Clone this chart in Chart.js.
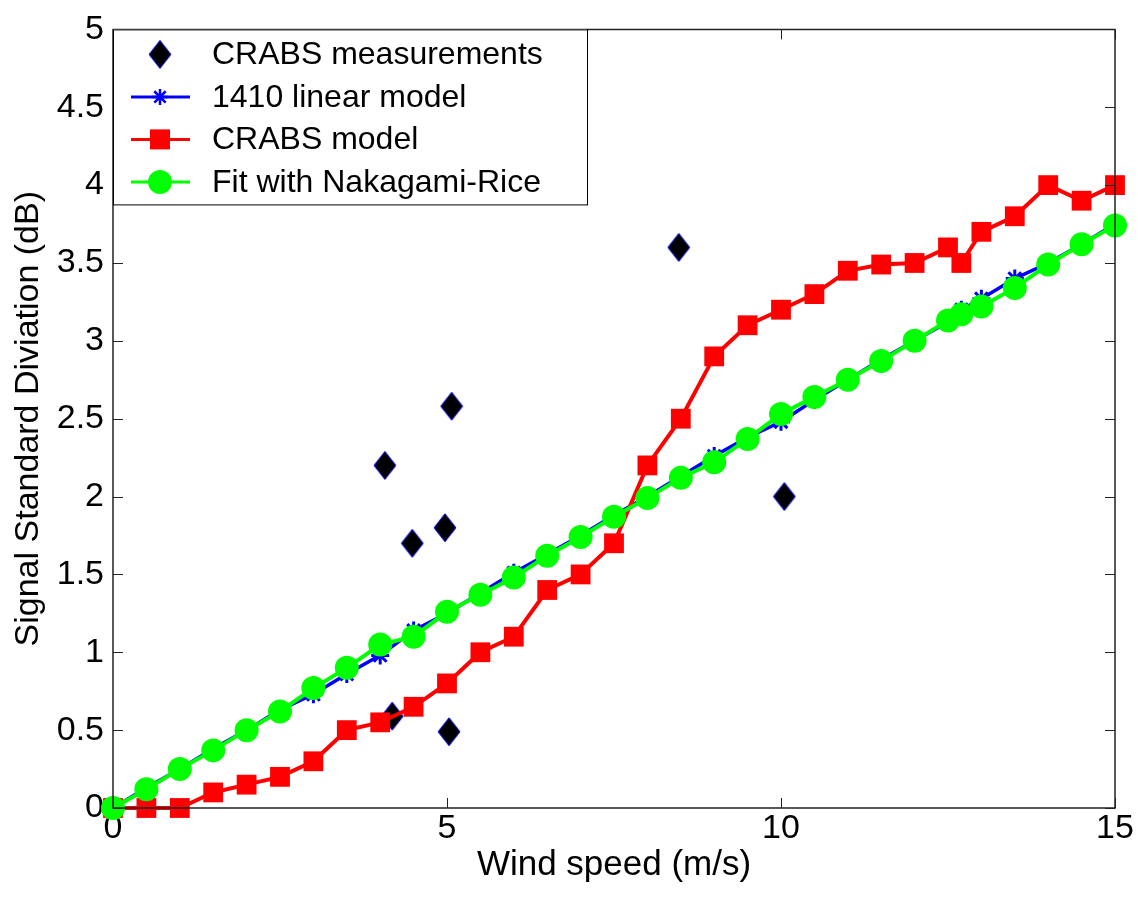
<!DOCTYPE html>
<html>
<head>
<meta charset="utf-8">
<script src="https://cdn.jsdelivr.net/npm/chart.js@4/dist/chart.umd.min.js"></script>
<style>
html,body{margin:0;padding:0;background:#fff;}
#c{display:block;}
</style>
</head>
<body>
<canvas id="c" width="1138" height="898"></canvas>
<script>
// ---- data ----
const measX = [4.07, 4.18, 4.48, 4.97, 5.03, 5.07, 8.47, 10.05];
const measY = [2.20, 0.59, 1.70, 1.80, 0.49, 2.58, 3.60, 2.00];

const modelX = [0,0.5,1,1.5,2,2.5,3,3.5,4,4.5,5,5.5,6,6.5,7,7.5,8,8.5,9,9.5,10,10.5,11,11.5,12,12.5,12.7,13,13.5,14,14.5,15];
const linearY = [0,0.13,0.25,0.38,0.5,0.63,0.73,0.86,0.98,1.14,1.25,1.38,1.51,1.63,1.75,1.88,2.0,2.13,2.26,2.38,2.48,2.62,2.75,2.88,3.0,3.12,3.2,3.27,3.4,3.5,3.62,3.75];
const crabsY = [0,0,0,0.1,0.15,0.2,0.3,0.5,0.55,0.65,0.8,1.0,1.1,1.4,1.5,1.7,2.2,2.5,2.9,3.1,3.2,3.3,3.45,3.49,3.5,3.6,3.5,3.7,3.8,4.0,3.9,4.0];
const nakaY = [0,0.12,0.25,0.37,0.5,0.62,0.77,0.9,1.05,1.1,1.26,1.37,1.48,1.62,1.74,1.87,1.99,2.12,2.22,2.37,2.53,2.64,2.75,2.87,3.0,3.13,3.17,3.22,3.34,3.49,3.62,3.74];

const xTicks = [0, 5, 10, 15];
const yTicks = [0,0.5,1,1.5,2,2.5,3,3.5,4,4.5,5];
const seriesNames = ['CRABS measurements','1410 linear model','CRABS model','Fit with Nakagami-Rice'];
const xTitle = 'Wind speed (m/s)';
const yTitle = 'Signal Standard Diviation (dB)';

const FONT = "Arial, 'Liberation Sans', sans-serif";

// diamond marker
function makeDiamond(){
  const c = document.createElement('canvas');
  c.width = 24; c.height = 30;
  const g = c.getContext('2d');
  g.beginPath();
  g.moveTo(12,1); g.lineTo(23,15); g.lineTo(12,29); g.lineTo(1,15); g.closePath();
  g.fillStyle = '#000'; g.fill();
  g.strokeStyle = '#0000ff'; g.lineWidth = 1; g.stroke();
  return c;
}
const diamond = makeDiamond();

function pts(xs, ys){ return xs.map((x,i)=>({x:x, y:ys[i]})); }

const framePlugin = {
  id:'frame',
  afterDatasetsDraw(chart){
    const ctx = chart.ctx, a = chart.chartArea;
    const xs = chart.scales.x, ys = chart.scales.y;
    ctx.save();
    ctx.lineWidth = 1.5;
    ctx.strokeStyle = '#222';
    ctx.beginPath();
    ctx.rect(a.left, a.top, a.right - a.left, a.bottom - a.top);
    ctx.stroke();
    const L = 10;
    ctx.lineWidth = 1;
    ctx.beginPath();
    xTicks.forEach(v=>{
      const p = Math.round(xs.getPixelForValue(v)) + 0.5;
      ctx.moveTo(p, a.bottom); ctx.lineTo(p, a.bottom - L);
      ctx.moveTo(p, a.top); ctx.lineTo(p, a.top + L);
    });
    yTicks.forEach(v=>{
      const p = Math.round(ys.getPixelForValue(v)) + 0.5;
      ctx.moveTo(a.left, p); ctx.lineTo(a.left + L, p);
      ctx.moveTo(a.right, p); ctx.lineTo(a.right - L, p);
    });
    ctx.stroke();
    ctx.restore();
  },
  afterDraw(chart){
    const ctx = chart.ctx, a = chart.chartArea;
    ctx.save();
    const bx = a.left, by = a.top, bw = 474, bh = 175;
    ctx.fillStyle = '#fff';
    ctx.fillRect(bx, by, bw, bh);
    ctx.strokeStyle = '#000';
    ctx.lineWidth = 1;
    ctx.strokeRect(bx + 0.5, by + 0.5, bw, bh);
    const x0 = bx + 18, x1 = bx + 77, xm = bx + 47, tx = bx + 99;
    ctx.font = "32px " + FONT;
    ctx.textBaseline = 'middle';
    ctx.textAlign = 'left';
    seriesNames.forEach((name, i)=>{
      const cy = by + 25 + i * 42.5;
      if (i === 0) {
        ctx.drawImage(diamond, xm - 12, cy - 15);
      } else if (i === 1) {
        ctx.strokeStyle = '#0000ff'; ctx.lineWidth = 3;
        ctx.beginPath(); ctx.moveTo(x0, cy); ctx.lineTo(x1, cy); ctx.stroke();
        ctx.lineWidth = 2.5;
        ctx.beginPath();
        const r = 8;
        for (let k = 0; k < 4; k++) {
          const ang = k * Math.PI / 4;
          ctx.moveTo(xm - r*Math.cos(ang), cy - r*Math.sin(ang));
          ctx.lineTo(xm + r*Math.cos(ang), cy + r*Math.sin(ang));
        }
        ctx.stroke();
      } else if (i === 2) {
        ctx.strokeStyle = '#ff0000'; ctx.lineWidth = 3;
        ctx.beginPath(); ctx.moveTo(x0, cy); ctx.lineTo(x1, cy); ctx.stroke();
        ctx.fillStyle = '#ff0000';
        ctx.fillRect(xm - 10, cy - 10, 20, 20);
      } else {
        ctx.strokeStyle = '#00ff00'; ctx.lineWidth = 3;
        ctx.beginPath(); ctx.moveTo(x0, cy); ctx.lineTo(x1, cy); ctx.stroke();
        ctx.fillStyle = '#00ff00';
        ctx.beginPath(); ctx.arc(xm, cy, 12, 0, Math.PI*2); ctx.fill();
      }
      ctx.fillStyle = '#000';
      ctx.fillText(name, tx, cy + 1);
    });
    ctx.restore();
  }
};

new Chart(document.getElementById('c'), {
  type: 'scatter',
  data: {
    datasets: [
      {
        label: seriesNames[0],
        data: pts(measX, measY),
        showLine: false,
        pointStyle: diamond,
        pointRadius: 12,
        order: 4,
        clip: false
      },
      {
        label: seriesNames[1],
        data: pts(modelX, linearY),
        showLine: true,
        borderColor: '#0000ff',
        borderWidth: 3.5,
        pointStyle: 'star',
        pointRadius: 9,
        pointBorderWidth: 3,
        pointBorderColor: '#0000ff',
        pointBackgroundColor: '#0000ff',
        order: 3,
        clip: false
      },
      {
        label: seriesNames[2],
        data: pts(modelX, crabsY),
        showLine: true,
        borderColor: '#ff0000',
        borderWidth: 4,
        pointStyle: 'rect',
        pointRadius: 14,
        pointBorderWidth: 0,
        pointBackgroundColor: '#ff0000',
        order: 2,
        clip: false
      },
      {
        label: seriesNames[3],
        data: pts(modelX, nakaY),
        showLine: true,
        borderColor: '#00ff00',
        borderWidth: 4,
        pointStyle: 'circle',
        pointRadius: 12,
        pointBorderWidth: 0,
        pointBackgroundColor: '#00ff00',
        order: 1,
        clip: false
      }
    ]
  },
  options: {
    responsive: false,
    animation: false,
    devicePixelRatio: 1,
    layout: { padding: { top: 22, right: 23, left: 0, bottom: 0 } },
    plugins: { legend: { display: false }, tooltip: { enabled: false } },
    scales: {
      x: {
        type: 'linear', min: 0, max: 15,
        afterFit(s){ s.height = 90; },
        grid: { display: false, drawTicks: false },
        border: { display: false },
        ticks: { padding: 0, color: '#000', font: { family: FONT, size: 34 }, maxRotation: 0, callback: v => String(v) },
        afterBuildTicks(s){ s.ticks = xTicks.map(v=>({value:v})); },
        title: { display: true, text: xTitle, color: '#000', font: { family: FONT, size: 35 }, padding: { top: 0, bottom: 12 } }
      },
      y: {
        type: 'linear', min: 0, max: 5,
        afterFit(s){ s.width = 113; },
        grid: { display: false, drawTicks: false },
        border: { display: false },
        ticks: { padding: 9, color: '#000', font: { family: FONT, size: 34 }, callback: v => String(v) },
        afterBuildTicks(s){ s.ticks = yTicks.map(v=>({value:v})); },
        title: { display: true, text: yTitle, color: '#000', font: { family: FONT, size: 34 }, padding: { top: 8, bottom: 0 } }
      }
    }
  },
  plugins: [framePlugin]
});
</script>
</body>
</html>
